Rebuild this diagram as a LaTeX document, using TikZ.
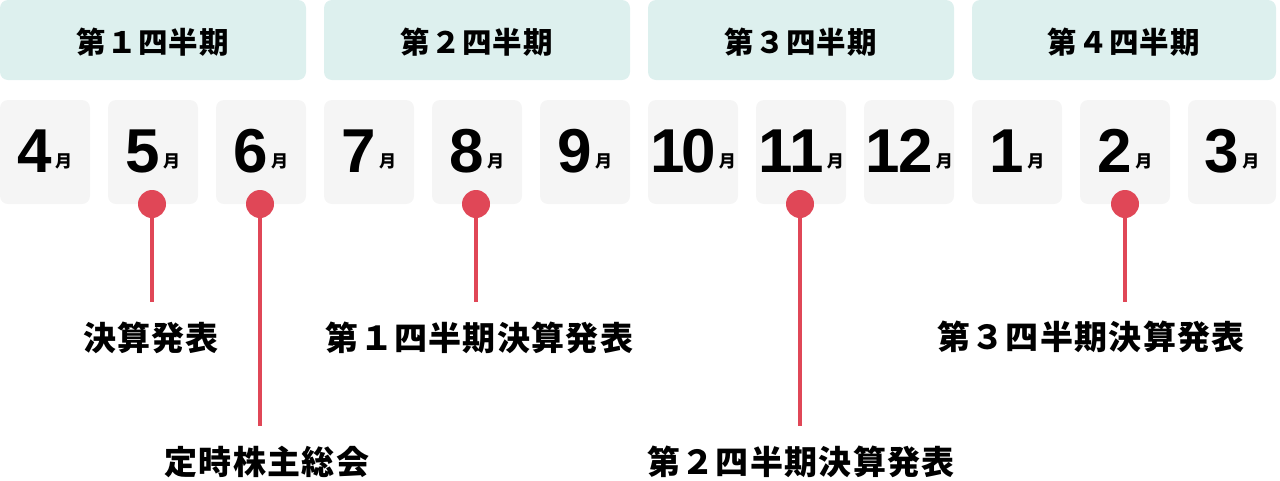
\documentclass[tikz,border=0pt]{standalone}
\usepackage{fontspec}
\setmainfont{Liberation Sans}
\newfontfamily\cjk{Noto Sans CJK JP}
\newfontfamily\cjkls{Noto Sans CJK JP}[LetterSpace=4]
\definecolor{qbg}{HTML}{DDF0EE}
\definecolor{mbg}{HTML}{F5F5F5}
\definecolor{pin}{HTML}{E04757}
\tikzset{
  qbox/.style={fill=qbg, rounded corners=8pt},
  mbox/.style={fill=mbg, rounded corners=8pt},
  qtext/.style={inner sep=0pt, font=\cjkls\bfseries\fontsize{29.5}{29.5}\selectfont},
  mtext/.style={inner sep=0pt, anchor=base},
  lbl/.style={inner sep=0pt, font=\cjkls\bfseries\fontsize{33}{33}\selectfont},
  dot/.style={circle, fill=pin, minimum size=28pt, inner sep=0pt},
  stem/.style={draw=pin, line width=3.6pt},
}
\newcommand{\mon}[1]{{\bfseries\fontsize{62}{62}\selectfont #1}\kern3pt\raisebox{5pt}{\cjk\bfseries\fontsize{17}{17}\selectfont 月}}
\begin{document}
\begin{tikzpicture}[x=1pt,y=-1pt]
\useasboundingbox (0,0) rectangle (1280,480);
% quarter headers
\fill[qbox] (0,0) rectangle (306,80);
\fill[qbox] (324,0) rectangle (630,80);
\fill[qbox] (648,0) rectangle (954,80);
\fill[qbox] (972,0) rectangle (1276,80);
\node[qtext] (q1) at (153,42) {第１四半期};
\node[qtext] (q2) at (477,42) {第２四半期};
\node[qtext] (q3) at (801,42) {第３四半期};
\node[qtext] (q4) at (1124,42) {第４四半期};
% month boxes
\foreach \i/\m in {0/4,1/5,2/6,3/7,4/8,5/9,6/1\kern-3pt0,7/1\kern-3pt1,8/1\kern-1pt2,9/1,10/2} {
  \fill[mbox] (\i*108,100) rectangle (\i*108+90,204);
  \node[mtext] (m\i) at (\i*108+45,172) {\mon{\m}};
}
\fill[mbox] (1188,100) rectangle (1276,204);
\node[mtext] (m11) at (1232,172) {\mon{3}};
% pins
\coordinate (e5) at (152,302);
\coordinate (e6) at (260,426);
\coordinate (e8) at (476,302);
\coordinate (e11) at (800,426);
\coordinate (e2) at (1125,302);
\node[dot] (d5) at (152,204) {};
\node[dot] (d6) at (260,204) {};
\node[dot] (d8) at (476,204) {};
\node[dot] (d11) at (800,204) {};
\node[dot] (d2) at (1125,204) {};
\draw[stem] (d5.center) -- (e5);
\draw[stem] (d6.center) -- (e6);
\draw[stem] (d8.center) -- (e8);
\draw[stem] (d11.center) -- (e11);
\draw[stem] (d2.center) -- (e2);
% labels
\node[lbl] (l5) at (151,338) {決算発表};
\node[lbl] (l6) at (267,462) {定時株主総会};
\node[lbl] (l8) at (479.5,338) {第１四半期決算発表};
\node[lbl] (l11) at (801,462) {第２四半期決算発表};
\node[lbl] (l2) at (1091,337) {第３四半期決算発表};
\end{tikzpicture}
\end{document}
